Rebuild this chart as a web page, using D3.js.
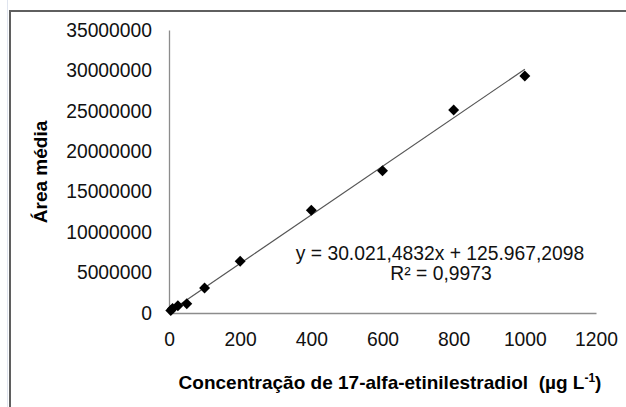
<!DOCTYPE html>
<html><head><meta charset="utf-8">
<script src="https://cdn.jsdelivr.net/npm/d3@7"></script>
<style>html,body{margin:0;padding:0;background:#fff;}svg{display:block;}text{white-space:pre;}</style>
</head><body>
<svg id="c" width="626" height="407"></svg>
<script>
const concentrations = [5, 10, 25, 50, 100, 200, 400, 600, 800, 1000];
const areas = [300000, 550000, 900000, 1150000, 3100000, 6400000, 12700000, 17600000, 25100000, 29300000];
const xTicks = [0, 200, 400, 600, 800, 1000, 1200];
const yTicks = [0, 5000000, 10000000, 15000000, 20000000, 25000000, 30000000, 35000000];
const slope = 30021.4832, intercept = 125967.2098;
const eqText = "y = 30.021,4832x + 125.967,2098";
const r2Text = "R² = 0,9973";
const xTitle = "Concentração de 17-alfa-etinilestradiol  (µg L";
const yTitle = "Área média";

const svg = d3.select("#c");
const font = "Liberation Sans, Arial, sans-serif";
const fs = "19.3px";

// spreadsheet background gridlines & frame
svg.append("line").attr("x1",7.5).attr("x2",7.5).attr("y1",0).attr("y2",407).attr("stroke","#dfe4ee").attr("stroke-width",1);
svg.append("path").attr("d","M10,407 V11 H626").attr("fill","none").attr("stroke","#5f5f5f").attr("stroke-width",2);

const x = d3.scaleLinear().domain([0,1200]).range([169,596]);
const y = d3.scaleLinear().domain([0,35000000]).range([313,30]);

const xAxis = svg.append("g").attr("transform","translate(0,313)")
  .call(d3.axisBottom(x).tickValues(xTicks).tickSize(0).tickPadding(19).tickFormat(d3.format("d")));
const yAxis = svg.append("g").attr("transform","translate(169,0)")
  .call(d3.axisLeft(y).tickValues(yTicks).tickSize(0).tickPadding(17).tickFormat(d3.format("d")));
[xAxis,yAxis].forEach(a=>{
  a.select(".domain").attr("stroke","#8c8c8c").attr("stroke-width",1.3);
  a.selectAll("text").attr("font-family",font).attr("font-size",fs).attr("fill","#111");
});

// trendline
svg.append("line")
  .attr("x1",x(0)).attr("y1",y(intercept))
  .attr("x2",x(1000)).attr("y2",y(intercept+slope*1000))
  .attr("stroke","#555").attr("stroke-width",1.2);

// points
svg.append("g").selectAll("path").data(concentrations.map((c,i)=>[c,areas[i]])).join("path")
  .attr("d",d3.symbol(d3.symbolSquare, 60))
  .attr("transform",d=>`translate(${x(d[0])},${y(d[1])}) rotate(45)`)
  .attr("fill","#000");

// equation
svg.append("text").attr("x",440).attr("y",260).attr("text-anchor","middle")
  .attr("font-family",font).attr("font-size",fs).attr("fill","#111").text(eqText);
svg.append("text").attr("x",441).attr("y",280).attr("text-anchor","middle")
  .attr("font-family",font).attr("font-size",fs).attr("fill","#111").text(r2Text);

// axis titles
const xt = svg.append("text").attr("x",390).attr("y",389).attr("text-anchor","middle")
  .attr("font-family",font).attr("font-size","19px").attr("font-weight","bold").attr("fill","#000");
xt.append("tspan").text(xTitle);
xt.append("tspan").attr("dy",-7).attr("font-size","12px").text("-1");
xt.append("tspan").attr("dy",7).text(")");

svg.append("text").attr("transform","translate(47,172) rotate(-90)").attr("text-anchor","middle")
  .attr("font-family",font).attr("font-size","19px").attr("font-weight","bold").attr("fill","#000").text(yTitle);
</script>
</body></html>
